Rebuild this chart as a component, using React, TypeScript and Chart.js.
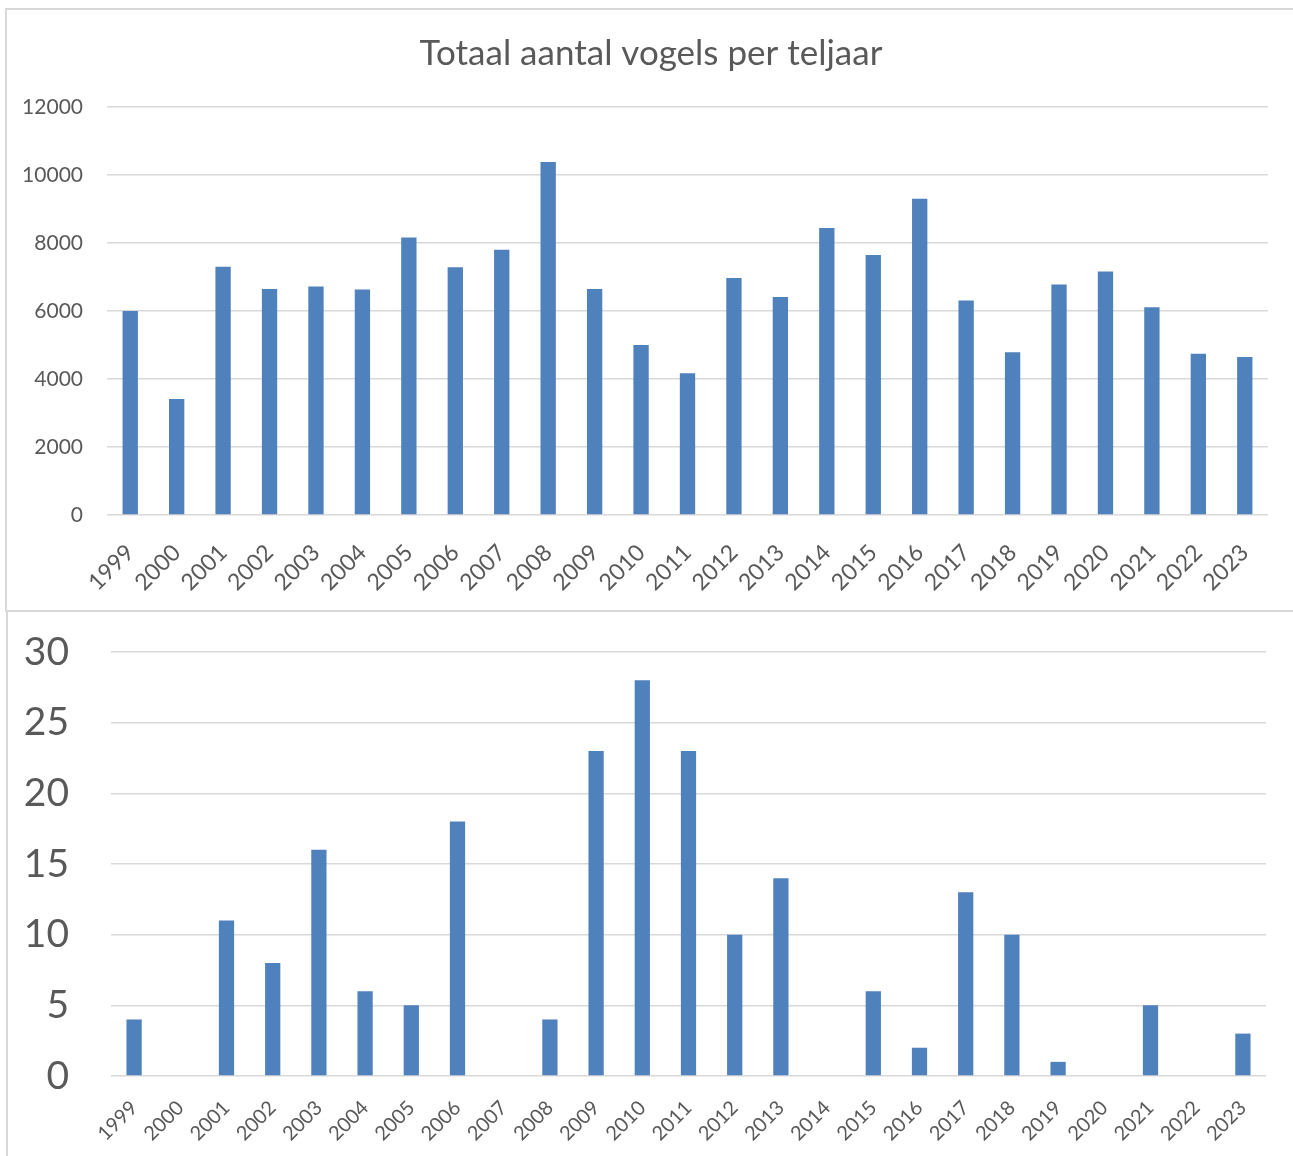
import React, { useEffect, useRef } from "react";
import { Chart, registerables } from "chart.js";

Chart.register(...registerables);

const years = [
  "1999", "2000", "2001", "2002", "2003", "2004", "2005", "2006", "2007", "2008",
  "2009", "2010", "2011", "2012", "2013", "2014", "2015", "2016", "2017", "2018",
  "2019", "2020", "2021", "2022", "2023",
];

const totalBirds = [
  6000, 3410, 7300, 6650, 6720, 6630, 8160, 7290, 7800, 10380,
  6650, 5000, 4170, 6970, 6410, 8440, 7650, 9300, 6310, 4790,
  6780, 7160, 6110, 4740, 4650,
];

const secondSeries = [
  4, 0, 11, 8, 16, 6, 5, 18, 0, 4,
  23, 28, 23, 10, 14, 0, 6, 2, 13, 10,
  1, 0, 5, 0, 3,
];

const titleText = "Totaal aantal vogels per teljaar";

const FONT = "Lato, 'Open Sans', sans-serif";
const TEXT = "#595959";
const GRID = "#d9d9d9";
const BAR = "#4f81bd";

// shifts the title block so that it is centred like the reference
const titleShift = {
  id: "titleShift",
  afterLayout(chart: any, _args: any, opts: any) {
    const t = chart.titleBlock;
    if (t && opts && opts.dx) {
      t.left += opts.dx;
      t.right += opts.dx;
    }
  },
};

function makeConfig(opts: {
  data: number[];
  max: number;
  step: number;
  yWidth: number;
  xHeight: number;
  padRight: number;
  padTop: number;
  yFont: number;
  xFont: number;
  yPad: number;
  xPad: number;
  title?: string;
}): any {
  return {
    type: "bar",
    data: {
      labels: years,
      datasets: [
        {
          data: opts.data,
          backgroundColor: BAR,
          borderWidth: 0,
          barPercentage: 0.33,
          categoryPercentage: 1,
        },
      ],
    },
    plugins: [titleShift],
    options: {
      animation: false,
      responsive: false,
      maintainAspectRatio: false,
      layout: {
        padding: { left: 0, right: opts.padRight, top: opts.padTop, bottom: 0 },
      },
      plugins: {
        legend: { display: false },
        tooltip: { enabled: false },
        titleShift: { dx: 17 },
        title: opts.title
          ? {
              display: true,
              text: opts.title,
              color: TEXT,
              font: { family: FONT, size: 35, weight: "normal", lineHeight: 1.2 },
              padding: { top: 33, bottom: 32 },
            }
          : { display: false },
      },
      scales: {
        x: {
          grid: { display: false, drawTicks: false },
          border: { display: false },
          ticks: {
            color: TEXT,
            font: { family: FONT, size: opts.xFont },
            maxRotation: 45,
            minRotation: 45,
            autoSkip: false,
            padding: opts.xPad,
          },
          afterFit: (s: any) => {
            s.height = opts.xHeight;
          },
        },
        y: {
          min: 0,
          max: opts.max,
          grid: { color: GRID, lineWidth: 1.5, drawTicks: false },
          border: { display: false },
          ticks: {
            stepSize: opts.step,
            color: TEXT,
            font: { family: FONT, size: opts.yFont },
            padding: opts.yPad,
            callback: (v: any) => String(v),
          },
          afterFit: (s: any) => {
            s.width = opts.yWidth;
            s.paddingTop = 0;
            s.paddingBottom = 0;
          },
        },
      },
    },
  };
}

export default function App() {
  const topRef = useRef<HTMLCanvasElement>(null);
  const botRef = useRef<HTMLCanvasElement>(null);

  useEffect(() => {
    const c1 = new Chart(
      topRef.current!,
      makeConfig({
        data: totalBirds,
        max: 12000,
        step: 2000,
        yWidth: 107,
        xHeight: 95,
        padRight: 25,
        padTop: 0,
        yFont: 21,
        xFont: 23,
        yPad: 24,
        xPad: 24,
        title: titleText,
      })
    );
    const c2 = new Chart(
      botRef.current!,
      makeConfig({
        data: secondSeries,
        max: 30,
        step: 5,
        yWidth: 111,
        xHeight: 80,
        padRight: 27,
        padTop: 41,
        yFont: 39,
        xFont: 20,
        yPad: 42,
        xPad: 20,
      })
    );
    return () => {
      c1.destroy();
      c2.destroy();
    };
  }, []);

  return (
    <div
      style={{
        position: "absolute",
        left: 0,
        top: 0,
        width: 1293,
        height: 1156,
        background: "#fff",
        overflow: "hidden",
      }}
    >
      <canvas
        ref={topRef}
        width={1293}
        height={610}
        style={{ position: "absolute", left: 0, top: 0, width: 1293, height: 610 }}
      />
      <canvas
        ref={botRef}
        width={1293}
        height={545}
        style={{ position: "absolute", left: 0, top: 611, width: 1293, height: 545 }}
      />
      <div
        style={{
          position: "absolute",
          left: 5,
          top: 8,
          width: 1300,
          height: 600,
          borderTop: `2px solid ${GRID}`,
          borderLeft: `2px solid ${GRID}`,
          borderBottom: `2px solid ${GRID}`,
          pointerEvents: "none",
        }}
      />
      <div
        style={{
          position: "absolute",
          left: 6,
          top: 610,
          width: 0,
          height: 546,
          borderLeft: `2px solid ${GRID}`,
          pointerEvents: "none",
        }}
      />
    </div>
  );
}
